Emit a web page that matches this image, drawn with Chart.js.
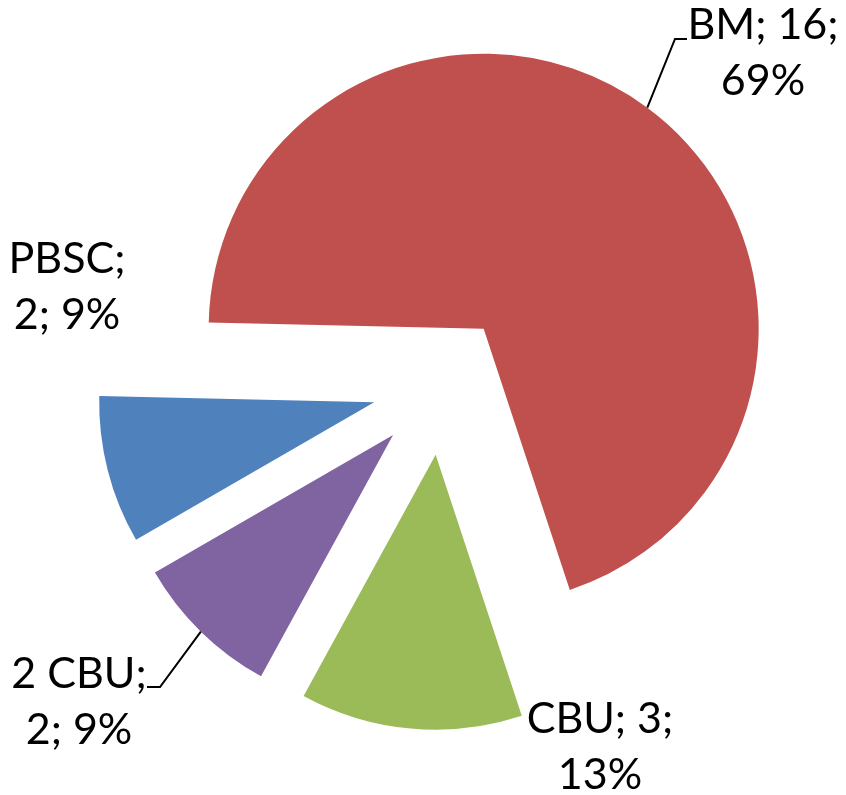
<!DOCTYPE html>
<html>
<head>
<meta charset="utf-8">
<script src="https://cdn.jsdelivr.net/npm/chart.js@4.4.1/dist/chart.umd.min.js"></script>
<style>
  html, body { margin: 0; padding: 0; background: #fff; }
  #wrap { width: 846px; height: 795px; }
</style>
</head>
<body>
<div id="wrap"><canvas id="chart"></canvas></div>
<script>
// Graft source pie
const categories = ['PBSC', 'BM', 'CBU', '2 CBU']
const counts = [2, 16, 3, 2]
const percents = [9, 69, 13, 9]
const sliceColors = ['#4F81BD', '#C0504D', '#9BBB59', '#8064A2']

// layout (px)
const PIE_RADIUS = 275
const EXPLODE = 70
const FONT = '43px Lato, "Open Sans", sans-serif'
const LINE_HEIGHT = 56

// label block: centre x and first baseline, relative to the pie centre
const labelPos = [
  { dx: -375, dy: -112 },
  { dx: 321, dy: -346, leader: [233, -346, 245, -346] },
  { dx: 158, dy: 348 },
  { dx: -363, dy: 303, leader: [-282, 302, -295, 302] }
]

// push every slice out along its mid angle
const explodePlugin = {
  id: 'explode',
  afterDatasetUpdate(chart, args) {
    const meta = chart.getDatasetMeta(args.index)
    meta.data.forEach(arc => {
      const mid = (arc.startAngle + arc.endAngle) / 2
      arc.x += Math.cos(mid) * EXPLODE
      arc.y += Math.sin(mid) * EXPLODE
    })
  }
}

const labelPlugin = {
  id: 'sliceLabels',
  afterDatasetsDraw(chart) {
    const ctx = chart.ctx
    const area = chart.chartArea
    const cx = (area.left + area.right) / 2
    const cy = (area.top + area.bottom) / 2
    const meta = chart.getDatasetMeta(0)
    ctx.save()
    ctx.font = FONT
    ctx.fillStyle = '#000'
    ctx.textAlign = 'center'
    ctx.textBaseline = 'alphabetic'
    ctx.strokeStyle = '#000'
    ctx.lineWidth = 2
    meta.data.forEach((arc, i) => {
      const pos = labelPos[i]
      const lines = [categories[i] + ';', counts[i] + '; ' + percents[i] + '%']
      if (i === 1 || i === 2) {
        lines[0] = categories[i] + '; ' + counts[i] + ';'
        lines[1] = percents[i] + '%'
      }
      lines.forEach((t, k) => ctx.fillText(t, cx + pos.dx, cy + pos.dy + k * LINE_HEIGHT))

      if (pos.leader) {
        const mid = (arc.startAngle + arc.endAngle) / 2
        const ex = arc.x + Math.cos(mid) * arc.outerRadius
        const ey = arc.y + Math.sin(mid) * arc.outerRadius
        const [bx, by, tx, ty] = pos.leader
        ctx.beginPath()
        ctx.moveTo(ex, ey)
        ctx.lineTo(cx + bx, cy + by)
        ctx.lineTo(cx + tx, cy + ty)
        ctx.stroke()
      }
    })
    ctx.restore()
  }
}

new Chart(document.getElementById('chart'), {
  type: 'pie',
  data: {
    labels: categories,
    datasets: [{
      data: counts,
      backgroundColor: sliceColors,
      borderWidth: 0
    }]
  },
  options: {
    responsive: true,
    maintainAspectRatio: false,
    animation: false,
    events: [],
    rotation: 240,
    radius: PIE_RADIUS,
    layout: { padding: { left: 38, right: 0, top: 0, bottom: 25 } },
    plugins: {
      legend: { display: false },
      tooltip: { enabled: false }
    }
  },
  plugins: [explodePlugin, labelPlugin]
})
</script>
</body>
</html>
